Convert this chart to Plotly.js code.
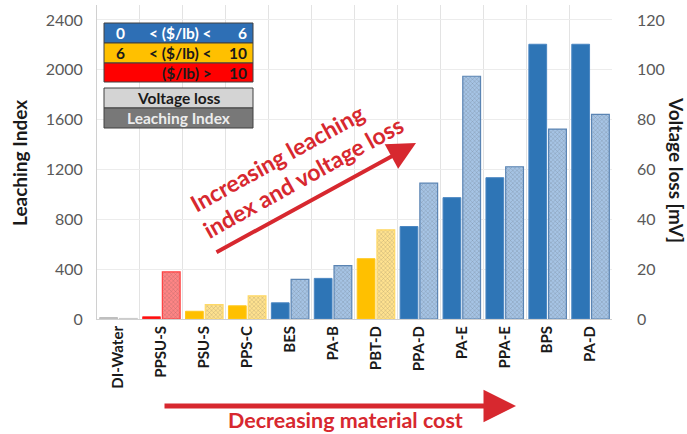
<!DOCTYPE html>
<html>
<head>
<meta charset="utf-8">
<script src="https://cdn.plot.ly/plotly-3.0.1.min.js"></script>
<style>html,body{margin:0;padding:0;background:#fff;}#chart{width:687px;height:434px;}</style>
</head>
<body>
<div id="chart"></div>
<script>
// ---- data ----
const categories = ['DI-Water','PPSU-S','PSU-S','PPS-C','BES','PA-B','PBT-D','PPA-D','PA-E','PPA-E','BPS','PA-D'];
const leachingIndex = [12, 18, 62, 106, 130, 326, 484, 742, 974, 1134, 2205, 2205];
const voltageLoss = [0.2, 18.9, 5.8, 9.3, 15.9, 21.4, 35.8, 54.5, 97.4, 61.1, 76.2, 82.1];
const costTier = ['none','high','mid','mid','low','low','mid','low','low','low','low','low'];
const legendRows = [
  ['0', '< ($/lb) <', '6'],
  ['6', '< ($/lb) <', '10'],
  ['', '($/lb) >', '10']
];

// ---- styles ----
const solidColor = {none:'#bfbfbf', high:'#ff0000', mid:'#ffc000', low:'#2e75b6'};
const solidLine  = {none:'#bfbfbf', high:'#ff3b3b', mid:'#ffc81f', low:'#4a86c2'};
const hatchBg    = {none:'#e0e0e0', high:'#ff8585', mid:'#ffe28f', low:'#a6c4e5'};
const hatchFg    = {none:'#d0d0d0', high:'#ff6a6a', mid:'#ffd872', low:'#93b6de'};
const hatchLine  = {none:'#cccccc', high:'#ff4040', mid:'#ffd966', low:'#5a84b3'};
const RED = '#d7282f';
const FONT = 'Lato, "Open Sans", sans-serif';

const L = 97, R = 612, T = 5, B = 319;
const px = v => (v - L) / (R - L);
const py = v => (B - v) / (B - T);

const traces = [
  {
    type:'bar', x:categories, y:leachingIndex, yaxis:'y', offsetgroup:'li',
    marker:{color:costTier.map(t=>solidColor[t]), line:{color:costTier.map(t=>solidLine[t]), width:1}},
    hoverinfo:'x+y'
  },
  {
    type:'bar', x:categories, y:voltageLoss, yaxis:'y2', offsetgroup:'vl',
    marker:{
      color:costTier.map(t=>hatchBg[t]),
      pattern:{shape:'x', size:3, solidity:0.2, fillmode:'overlay',
               fgcolor:costTier.map(t=>hatchFg[t])},
      line:{color:costTier.map(t=>hatchLine[t]), width:1.2}
    },
    hoverinfo:'x+y'
  }
];

const shapes = [];
const annotations = [];

// legend boxes
const lgX0 = 104, lgX1 = 253;
const tierBoxes = [
  {y0:23, y1:43, fill:'#2e6fb5', txt:'#ffffff'},
  {y0:43, y1:63, fill:'#ffc000', txt:'#1a1a1a'},
  {y0:63, y1:82, fill:'#ff0000', txt:'#1a1a1a'}
];
tierBoxes.forEach((b,i)=>{
  shapes.push({type:'rect', xref:'paper', yref:'paper', x0:px(lgX0), x1:px(lgX1), y0:py(b.y1), y1:py(b.y0),
    fillcolor:b.fill, line:{color:'#404040', width:1}, layer:'above'});
  const yc = py((b.y0+b.y1)/2);
  const row = legendRows[i];
  const f = {family:FONT, size:15.5, color:b.txt};
  if (row[0]) annotations.push({xref:'paper', yref:'paper', x:px(120), y:yc, text:'<b>'+row[0]+'</b>', showarrow:false, font:f, xanchor:'center', yanchor:'middle'});
  annotations.push({xref:'paper', yref:'paper', x:px(i===2?187:180), y:yc, text:'<b>'+row[1]+'</b>', showarrow:false, font:f, xanchor:'center', yanchor:'middle'});
  annotations.push({xref:'paper', yref:'paper', x:px(249), y:yc, text:'<b>'+row[2]+'</b>', showarrow:false, font:f, xanchor:'right', yanchor:'middle'});
});
const seriesBoxes = [
  {y0:88, y1:108, fill:'#d4d4d4', txt:'#1a1a1a', label:'Voltage loss'},
  {y0:108, y1:128, fill:'#787878', txt:'#ececec', label:'Leaching Index'}
];
seriesBoxes.forEach(b=>{
  shapes.push({type:'rect', xref:'paper', yref:'paper', x0:px(lgX0), x1:px(lgX1), y0:py(b.y1), y1:py(b.y0),
    fillcolor:b.fill, line:{color:'#404040', width:1}, layer:'above'});
  annotations.push({xref:'paper', yref:'paper', x:px(179), y:py((b.y0+b.y1)/2), text:'<b>'+b.label+'</b>',
    showarrow:false, font:{family:FONT, size:15.5, color:b.txt}, xanchor:'center', yanchor:'middle'});
});

// axis titles
annotations.push({xref:'paper', yref:'paper', x:px(19), y:py(163), text:'<b>Leaching Index</b>', textangle:-90,
  showarrow:false, font:{family:FONT, size:19, color:'#1a1a1a'}, xanchor:'center', yanchor:'middle'});
annotations.push({xref:'paper', yref:'paper', x:px(677), y:py(170), text:'<b>Voltage loss [mV]</b>', textangle:90,
  showarrow:false, font:{family:FONT, size:19, color:'#1a1a1a'}, xanchor:'center', yanchor:'middle'});

// diagonal arrow + text
annotations.push({xref:'paper', yref:'paper', x:px(416), y:py(143), ax:-201, ay:110, text:'', showarrow:true,
  arrowhead:2, arrowsize:1.4, arrowwidth:4, arrowcolor:RED, standoff:0});
annotations.push({xref:'paper', yref:'paper', x:px(277), y:py(158), text:'<b>Increasing leaching</b>',
  textangle:-29, showarrow:false, font:{family:FONT, size:23, color:RED}, xanchor:'center', yanchor:'middle'});
annotations.push({xref:'paper', yref:'paper', x:px(303), y:py(177), text:'<b>index and voltage loss</b>',
  textangle:-29, showarrow:false, font:{family:FONT, size:23, color:RED}, xanchor:'center', yanchor:'middle'});

// bottom arrow + text
annotations.push({xref:'paper', yref:'paper', x:px(516), y:py(406), ax:-353, ay:0, text:'', showarrow:true,
  arrowhead:2, arrowsize:1.3, arrowwidth:5, arrowcolor:RED, standoff:0});
annotations.push({xref:'paper', yref:'paper', x:px(345), y:py(420), text:'<b>Decreasing material cost</b>',
  showarrow:false, font:{family:FONT, size:21.5, color:RED}, xanchor:'center', yanchor:'middle'});

const layout = {
  width:687, height:434,
  margin:{l:L, r:687-R, t:T, b:434-B},
  paper_bgcolor:'#ffffff', plot_bgcolor:'#ffffff',
  showlegend:false,
  barmode:'group', bargap:0.08, bargroupgap:0.1,
  font:{family:FONT},
  xaxis:{type:'category', tickson:'boundaries', showgrid:true, gridcolor:'#e3e3e3', gridwidth:1,
    tickangle:-90, ticks:'', tickfont:{family:FONT, size:15, color:'#1a1a1a', weight:'bold'},
    showline:true, linecolor:'#d0d0d0', zeroline:false},
  yaxis:{range:[0,2520], tick0:0, dtick:400, showgrid:true, gridcolor:'#ececec', zeroline:false,
    showline:true, linecolor:'#d0d0d0', ticks:'', ticklabelstandoff:10,
    tickfont:{family:FONT, size:16, color:'#595959'}},
  yaxis2:{overlaying:'y', side:'right', range:[0,126], tick0:0, dtick:20, showgrid:false, zeroline:false,
    showline:false, ticks:'', ticklabelstandoff:24, tickfont:{family:FONT, size:16, color:'#595959'}},
  shapes:shapes,
  annotations:annotations
};

Plotly.newPlot('chart', traces, layout, {displayModeBar:false, staticPlot:true});
</script>
</body>
</html>
